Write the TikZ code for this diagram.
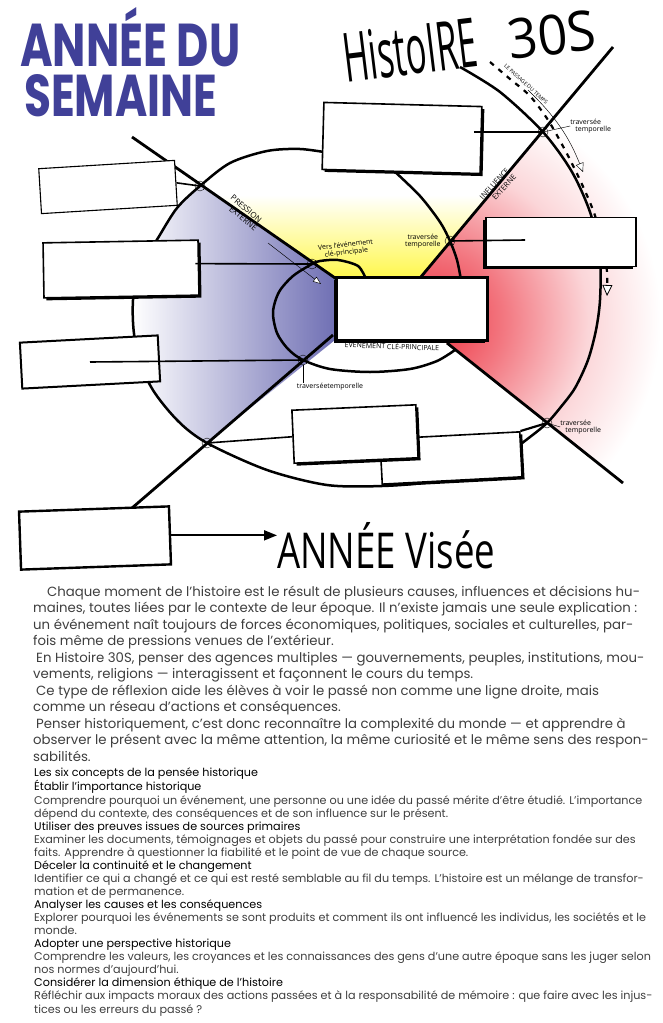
\documentclass[tikz,border=0pt]{standalone}
\usepackage{graphicx}
\usepackage{fontspec}
\setmainfont{Poppins}
\newfontfamily\handfont{Open Sans}
\usetikzlibrary{arrows.meta,positioning,calc,shadows}

\definecolor{tagblue}{RGB}{64,64,152}
\definecolor{pushblue}{RGB}{108,108,178}
\definecolor{pullred}{RGB}{236,48,62}
\definecolor{glowyellow}{RGB}{255,246,40}
\definecolor{bodygray}{RGB}{62,62,62}

\pgfdeclareradialshading{redglow}{\pgfpoint{0bp}{0bp}}{%
  color(0bp)=(pullred); color(7bp)=(pullred!65); color(15bp)=(pullred!20); color(22bp)=(white); color(50bp)=(white)}

\newcommand{\concept}[1]{{\color{black}#1}}

\begin{document}
\begin{tikzpicture}[x=1pt,y=1pt,
    panel/.style={draw, fill=white, line width=1.6pt, inner sep=0pt},
    heavy/.style={panel, drop shadow={fill=black, opacity=1, shadow xshift=2.5pt, shadow yshift=-2.5pt}},
    crossing/.style={draw, circle, line width=0.4pt, inner sep=0pt, minimum size=10pt},
    axis/.style={line width=2.8pt},
    rim/.style={line width=2.5pt},
    link/.style={line width=1.6pt},
    leader/.style={line width=0.45pt},
    scrawl/.style={font=\handfont\fontsize{7}{7.5}\selectfont, inner sep=0pt, align=center},
  ]
  \useasboundingbox (0,0) rectangle (662,-1023);

  % coloured wedges
  \shade[top color=white, middle color=glowyellow!25, bottom color=glowyellow!85]
    (338,-280) -- (216,-195) -- (489,-195) -- (420,-278) -- cycle;
  \shade[left color=white, right color=pushblue]
    (200,-186) -- (340,-280) -- (340,-336) -- (207,-443)
    -- plot[smooth] coordinates {(207,-443) (177,-420) (150,-385) (135,-340) (133,-300) (140,-268) (158,-238) (177,-208) (200,-186)} -- cycle;
  \begin{scope}
    \clip (397,-304) -- (620,-38) -- (662,-38) -- (662,-530) -- (650,-505) -- cycle;
    \shade[shading=redglow] (432,-320) circle (260);
  \end{scope}

  % passage du temps
  \draw[line width=2.2pt, dash pattern=on 5pt off 6pt, -{Triangle[fill=white, line width=0.8pt, length=11pt, width=10pt]}]
    plot[smooth] coordinates {(490,-62) (510,-79) (530,-96) (548,-120) (565,-150) (580,-180) (593,-210) (603,-242) (607,-272) (607,-296)};
  \draw[leader, -{Triangle[fill=white, length=9pt, width=8pt]}] (528,-90) to[bend left=12] (583,-172);

  % the two axes
  \draw[axis] (132,-137) -- (338,-280);
  \draw[axis] (447,-343) -- (623,-483);
  \draw[axis] (613,-47) -- (420,-278);
  \draw[axis] (333,-335) -- (132,-508);

  % circles
  \draw[rim] plot[smooth] coordinates {(460,-67) (500,-92) (543,-132) (572,-172) (591,-215) (600,-260) (600,-300) (596,-330) (588,-360) (575,-388) (560,-408) (547,-423) (530,-437) (505,-455) (470,-472) (430,-482) (382,-486) (327,-485) (267,-470) (207,-443) (177,-420) (150,-385) (135,-340) (133,-300) (140,-268) (158,-238) (177,-208) (200,-186) (230,-163) (267,-151) (300,-149) (330,-153)};
  \draw[rim] plot[smooth] coordinates {(393,-170) (420,-196) (440,-222) (450,-241) (457,-260) (461,-280)};
  \draw[rim] plot[smooth] coordinates {(366,-279) (358,-266) (338,-260) (320,-261) (312,-264) (293,-276) (279,-292) (273,-312) (277,-333) (288,-349) (303,-360) (330,-369) (370,-372) (410,-369) (437,-361) (455,-350)};

  \node[crossing] (x1) at (200,-186) {};
  \node[crossing] (x2) at (312,-264) {};
  \node[crossing] (x3) at (450,-241) {};
  \node[crossing] (x4) at (543,-132) {};
  \node[crossing] (x5) at (303,-360) {};
  \node[crossing] (x6) at (207,-443) {};
  \node[crossing] (x7) at (547,-423) {};

  % boxes
  \node[heavy, minimum width=158pt, minimum height=67pt, rotate=-1.5] (topbox) at (402,-138) {};
  \node[panel, line width=1.1pt, minimum width=136pt, minimum height=45pt, rotate=3.5] (leftA) at (108,-187) {};
  \node[heavy, minimum width=155pt, minimum height=55pt, rotate=1] (leftB) at (121,-269) {};
  \node[panel, line width=2pt, minimum width=138pt, minimum height=46pt, rotate=3] (leftC) at (90,-362) {};
  \node[heavy, minimum width=140pt, minimum height=45pt, rotate=3] (lowerback) at (451,-458) {};
  \node[heavy, minimum width=124pt, minimum height=53pt, rotate=2.5] (lowerfront) at (355,-434) {};
  \node[panel, line width=1.8pt, minimum width=150pt, minimum height=49pt,
        drop shadow={fill=black, opacity=1, shadow xshift=-3pt, shadow yshift=-2pt}] (rightbox) at (561,-242) {};
  \node[panel, line width=2.4pt, minimum width=150pt, minimum height=58pt, rotate=2] (bottombox) at (95,-538) {};
  \node[panel, line width=2.4pt, minimum width=151pt, minimum height=63pt,
        drop shadow={fill=black, opacity=1, shadow xshift=-3pt, shadow yshift=-2pt}] (event) at (412,-309) {};

  % connectors
  \draw[link] ($(topbox.east |- x4.center)+(-8,0)$) -- (x4.center);
  \draw[link] (leftA.east) -- (x1.center);
  \draw[link] ($(leftB.east)+(-4,4)$) -- (x2.center);
  \draw[link] (leftC.center) -- (x5.center);
  \draw[link] (x6.center) -- (lowerfront.west);
  \draw[link, line width=2.2pt] (lowerback.north east) -- (x7.center);
  \draw[link] (x3.center) -- ($(rightbox.west)+(40,2)$);

  % handwritten notes
  \node[scrawl, align=left, right=22pt of x4, yshift=6pt] (t4) {traversée\\\hspace*{5pt}temporelle};
  \draw[leader] (x4.center) -- (t4.west);
  \node[scrawl, left=4pt of x3] (t3) {traversée\\temporelle};
  \node[scrawl, below right=19pt and -10pt of x5] (t5) {traverséetemporelle};
  \draw[leader] (x5.south) -- (x5.south |- t5.north);
  \node[scrawl, align=left, right=8pt of x7, yshift=-4pt] (t7) {traversée\\\hspace*{5pt}temporelle};
  \draw[leader] (x7.center) -- (t7.west);

  \node[scrawl, font=\handfont\fontsize{8}{9.5}\selectfont, align=left, rotate=-40] (pression) at (244,-213) {PRESSION\\\hspace*{6pt}EXTERNE};
  \coordinate (pushtail) at (268,-243);
  \coordinate (pushtip) at (321,-284);
  \draw[leader, -{Triangle[fill=white, length=8pt, width=6pt]}] (pushtail) -- (pushtip);
  \node[scrawl, rotate=7] (vers) at (346,-249) {Vers l’événement\\clé-principale};
  \node[scrawl, font=\handfont\fontsize{7.5}{9.5}\selectfont, align=left, rotate=48] (influence) at (498,-187) {INFLUENCE\\\hspace*{8pt}EXTERNE};
  \node[scrawl, font=\handfont\fontsize{5.3}{6}\selectfont, rotate=-42] (passage) at (526,-84) {LE PASSAGE DU TEMPS};
  \node[scrawl, rotate=-2] (cle) at (392,-346) {ÉVÉNEMENT CLÉ-PRINCIPALE};

  % titles
  \node[anchor=south west, inner sep=0pt, text=tagblue] (tagA) at (20,-67) {\resizebox{220pt}{59pt}{\bfseries ANNÉE DU}};
  \node[anchor=south west, inner sep=0pt, text=tagblue] (tagB) at (24,-117) {\resizebox{193pt}{42pt}{\bfseries SEMAINE}};
  \node[rotate=7, inner sep=0pt] (course) at (410,-50) {\resizebox{134pt}{50pt}{\handfont HistoIRE}};
  \node[rotate=7, inner sep=0pt] (level) at (552,-35) {\resizebox{88pt}{40pt}{\handfont 30S}};
  \node[anchor=west, inner sep=0pt] (visee) at (277,-546) {\resizebox{218pt}{46pt}{\handfont ANNÉE Visée}};
  \draw[line width=1.8pt, -{Triangle[length=13pt, width=10pt]}] (bottombox.east) -- (bottombox.east -| visee.west);

  % text below
  \node[anchor=base west, align=left, inner sep=0pt, text=bodygray,
        font=\fontsize{13.3}{16.5}\selectfont] (intro) at (33,-761) {%
    \hspace*{14pt}Chaque moment de l’histoire est le résult de plusieurs causes, influences et décisions hu-\\
    maines, toutes liées par le contexte de leur époque. Il n’existe jamais une seule explication :\\
    un événement naît toujours de forces économiques, politiques, sociales et culturelles, par-\\
    fois même de pressions venues de l’extérieur.\\
    \hspace*{3pt}En Histoire 30S, penser des agences multiples — gouvernements, peuples, institutions, mou-\\
    vements, religions — interagissent et façonnent le cours du temps.\\
    \hspace*{3pt}Ce type de réflexion aide les élèves à voir le passé non comme une ligne droite, mais\\
    comme un réseau d’actions et conséquences.\\
    \hspace*{3pt}Penser historiquement, c’est donc reconnaître la complexité du monde — et apprendre à\\
    observer le présent avec la même attention, la même curiosité et le même sens des respon-\\
    sabilités.};

  \node[anchor=base west, align=left, inner sep=0pt, text=bodygray,
        font=\fontsize{11.2}{13.06}\selectfont] (concepts) at (34,-1013) {%
    \concept{Les six concepts de la pensée historique}\\
    \concept{Établir l’importance historique}\\
    Comprendre pourquoi un événement, une personne ou une idée du passé mérite d’être étudié. L’importance\\
    dépend du contexte, des conséquences et de son influence sur le présent.\\
    \concept{Utiliser des preuves issues de sources primaires}\\
    Examiner les documents, témoignages et objets du passé pour construire une interprétation fondée sur des\\
    faits. Apprendre à questionner la fiabilité et le point de vue de chaque source.\\
    \concept{Déceler la continuité et le changement}\\
    Identifier ce qui a changé et ce qui est resté semblable au fil du temps. L’histoire est un mélange de transfor-\\
    mation et de permanence.\\
    \concept{Analyser les causes et les conséquences}\\
    Explorer pourquoi les événements se sont produits et comment ils ont influencé les individus, les sociétés et le\\
    monde.\\
    \concept{Adopter une perspective historique}\\
    Comprendre les valeurs, les croyances et les connaissances des gens d’une autre époque sans les juger selon\\
    nos normes d’aujourd’hui.\\
    \concept{Considérer la dimension éthique de l’histoire}\\
    Réfléchir aux impacts moraux des actions passées et à la responsabilité de mémoire : que faire avec les injus-\\
    tices ou les erreurs du passé ?};
\end{tikzpicture}
\end{document}
